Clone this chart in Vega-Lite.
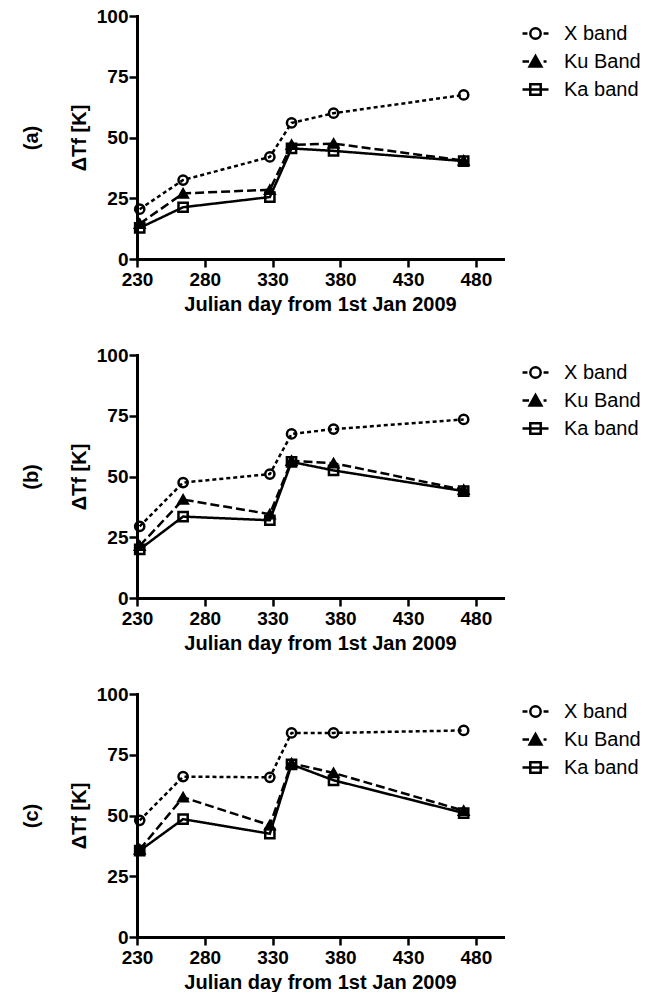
{
  "$schema": "https://vega.github.io/schema/vega-lite/v6.json",
  "padding": {"left": 21, "top": 7, "right": 0, "bottom": 0},
  "bounds": "flush",
  "spacing": 96,
  "data": {"values": [
    {"panel": "a", "band": "X band", "day": 232, "dT": 20.5},
    {"panel": "a", "band": "X band", "day": 264, "dT": 32.5},
    {"panel": "a", "band": "X band", "day": 328, "dT": 42},
    {"panel": "a", "band": "X band", "day": 344, "dT": 56},
    {"panel": "a", "band": "X band", "day": 375, "dT": 60},
    {"panel": "a", "band": "X band", "day": 471, "dT": 67.5},
    {"panel": "a", "band": "Ku Band", "day": 232, "dT": 14.5},
    {"panel": "a", "band": "Ku Band", "day": 264, "dT": 27},
    {"panel": "a", "band": "Ku Band", "day": 328, "dT": 28.5},
    {"panel": "a", "band": "Ku Band", "day": 344, "dT": 47},
    {"panel": "a", "band": "Ku Band", "day": 375, "dT": 47.5},
    {"panel": "a", "band": "Ku Band", "day": 471, "dT": 40.5},
    {"panel": "a", "band": "Ka band", "day": 232, "dT": 12.8},
    {"panel": "a", "band": "Ka band", "day": 264, "dT": 21.3},
    {"panel": "a", "band": "Ka band", "day": 328, "dT": 25.5},
    {"panel": "a", "band": "Ka band", "day": 344, "dT": 45.5},
    {"panel": "a", "band": "Ka band", "day": 375, "dT": 44.5},
    {"panel": "a", "band": "Ka band", "day": 471, "dT": 40.3},
    {"panel": "b", "band": "X band", "day": 232, "dT": 29.5},
    {"panel": "b", "band": "X band", "day": 264, "dT": 47.5},
    {"panel": "b", "band": "X band", "day": 328, "dT": 51},
    {"panel": "b", "band": "X band", "day": 344, "dT": 67.5},
    {"panel": "b", "band": "X band", "day": 375, "dT": 69.5},
    {"panel": "b", "band": "X band", "day": 471, "dT": 73.5},
    {"panel": "b", "band": "Ku Band", "day": 232, "dT": 21.5},
    {"panel": "b", "band": "Ku Band", "day": 264, "dT": 40.5},
    {"panel": "b", "band": "Ku Band", "day": 328, "dT": 34.5},
    {"panel": "b", "band": "Ku Band", "day": 344, "dT": 56.5},
    {"panel": "b", "band": "Ku Band", "day": 375, "dT": 55.5},
    {"panel": "b", "band": "Ku Band", "day": 471, "dT": 44.5},
    {"panel": "b", "band": "Ka band", "day": 232, "dT": 20},
    {"panel": "b", "band": "Ka band", "day": 264, "dT": 33.5},
    {"panel": "b", "band": "Ka band", "day": 328, "dT": 32},
    {"panel": "b", "band": "Ka band", "day": 344, "dT": 56},
    {"panel": "b", "band": "Ka band", "day": 375, "dT": 52.5},
    {"panel": "b", "band": "Ka band", "day": 471, "dT": 44},
    {"panel": "c", "band": "X band", "day": 232, "dT": 48},
    {"panel": "c", "band": "X band", "day": 264, "dT": 66},
    {"panel": "c", "band": "X band", "day": 328, "dT": 65.7},
    {"panel": "c", "band": "X band", "day": 344, "dT": 84},
    {"panel": "c", "band": "X band", "day": 375, "dT": 84},
    {"panel": "c", "band": "X band", "day": 471, "dT": 85},
    {"panel": "c", "band": "Ku Band", "day": 232, "dT": 36},
    {"panel": "c", "band": "Ku Band", "day": 264, "dT": 57.5},
    {"panel": "c", "band": "Ku Band", "day": 328, "dT": 46},
    {"panel": "c", "band": "Ku Band", "day": 344, "dT": 71.5},
    {"panel": "c", "band": "Ku Band", "day": 375, "dT": 67.5},
    {"panel": "c", "band": "Ku Band", "day": 471, "dT": 52},
    {"panel": "c", "band": "Ka band", "day": 232, "dT": 35.5},
    {"panel": "c", "band": "Ka band", "day": 264, "dT": 48.5},
    {"panel": "c", "band": "Ka band", "day": 328, "dT": 42.5},
    {"panel": "c", "band": "Ka band", "day": 344, "dT": 71},
    {"panel": "c", "band": "Ka band", "day": 375, "dT": 64.5},
    {"panel": "c", "band": "Ka band", "day": 471, "dT": 51}
  ]},
  "resolve": {
    "scale": {"shape": "independent", "fill": "independent", "strokeDash": "independent"},
    "legend": {"shape": "independent"}
  },
  "vconcat": [
    {
      "width": 366, "height": 243,
      "transform": [{"filter": "datum.panel == 'a'"}],
      "encoding": {
        "x": {"field": "day", "type": "quantitative", "scale": {"domain": [230, 500], "nice": false, "zero": false},
              "axis": {"values": [230, 280, 330, 380, 430, 480], "title": "Julian day from 1st Jan 2009"}},
        "y": {"field": "dT", "type": "quantitative", "scale": {"domain": [0, 100], "nice": false},
              "axis": {"values": [0, 25, 50, 75, 100], "title": ["(a)", "ΔTf [K]"]}}
      },
      "resolve": {"scale": {"shape": "independent"}},
      "layer": [
        {"mark": {"type": "line", "color": "black", "strokeWidth": 2.5},
         "encoding": {"strokeDash": {"field": "band", "type": "nominal", "scale": {"domain": ["X band", "Ku Band", "Ka band"], "range": [[4, 3], [9, 4], [1, 0]]}, "legend": null}}},
        {"mark": {"type": "point", "filled": true, "stroke": "black", "strokeWidth": 2.5, "size": 85, "opacity": 1},
         "encoding": {
           "shape": {"field": "band", "type": "nominal", "scale": {"domain": ["X band", "Ku Band", "Ka band"], "range": ["circle", "triangle-up", "square"]}, "legend": null},
           "fill": {"field": "band", "type": "nominal", "scale": {"domain": ["X band", "Ku Band", "Ka band"], "range": ["transparent", "black", "transparent"]}, "legend": null}}},
        {"transform": [{"filter": "false"}],
         "mark": {"type": "point", "filled": false, "color": "black", "strokeWidth": 2.5, "size": 676, "opacity": 1},
         "encoding": {
           "shape": {"field": "band", "type": "nominal", "scale": {"domain": ["X band", "Ku Band", "Ka band"], "range": [
             "M -1 0 L -0.62 0 M 0.62 0 L 1 0 M -0.4 0 A 0.4 0.4 0 1 0 0.4 0 A 0.4 0.4 0 1 0 -0.4 0 Z",
             "M -1 0 L -0.5 0 M 0.62 0 L 0.85 0 M -0.45 0.38 L 0 -0.42 L 0.45 0.38 Z M -0.27 0.273 L 0 -0.207 L 0.27 0.273 Z M -0.11 0.18 L 0 -0.02 L 0.11 0.18 Z",
             "M -1 0 L 1 0 M -0.4 -0.4 L 0.4 -0.4 L 0.4 0.4 L -0.4 0.4 Z"]},
             "legend": {"title": null, "orient": "right", "offset": 15, "padding": 3, "symbolSize": 676, "symbolStrokeWidth": 2.5, "symbolStrokeColor": "black", "labelOffset": 14, "rowPadding": 3}}}}
      ]
    },
    {
      "width": 366, "height": 243,
      "transform": [{"filter": "datum.panel == 'b'"}],
      "encoding": {
        "x": {"field": "day", "type": "quantitative", "scale": {"domain": [230, 500], "nice": false, "zero": false},
              "axis": {"values": [230, 280, 330, 380, 430, 480], "title": "Julian day from 1st Jan 2009"}},
        "y": {"field": "dT", "type": "quantitative", "scale": {"domain": [0, 100], "nice": false},
              "axis": {"values": [0, 25, 50, 75, 100], "title": ["(b)", "ΔTf [K]"]}}
      },
      "resolve": {"scale": {"shape": "independent"}},
      "layer": [
        {"mark": {"type": "line", "color": "black", "strokeWidth": 2.5},
         "encoding": {"strokeDash": {"field": "band", "type": "nominal", "scale": {"domain": ["X band", "Ku Band", "Ka band"], "range": [[4, 3], [9, 4], [1, 0]]}, "legend": null}}},
        {"mark": {"type": "point", "filled": true, "stroke": "black", "strokeWidth": 2.5, "size": 85, "opacity": 1},
         "encoding": {
           "shape": {"field": "band", "type": "nominal", "scale": {"domain": ["X band", "Ku Band", "Ka band"], "range": ["circle", "triangle-up", "square"]}, "legend": null},
           "fill": {"field": "band", "type": "nominal", "scale": {"domain": ["X band", "Ku Band", "Ka band"], "range": ["transparent", "black", "transparent"]}, "legend": null}}},
        {"transform": [{"filter": "false"}],
         "mark": {"type": "point", "filled": false, "color": "black", "strokeWidth": 2.5, "size": 676, "opacity": 1},
         "encoding": {
           "shape": {"field": "band", "type": "nominal", "scale": {"domain": ["X band", "Ku Band", "Ka band"], "range": [
             "M -1 0 L -0.62 0 M 0.62 0 L 1 0 M -0.4 0 A 0.4 0.4 0 1 0 0.4 0 A 0.4 0.4 0 1 0 -0.4 0 Z",
             "M -1 0 L -0.5 0 M 0.62 0 L 0.85 0 M -0.45 0.38 L 0 -0.42 L 0.45 0.38 Z M -0.27 0.273 L 0 -0.207 L 0.27 0.273 Z M -0.11 0.18 L 0 -0.02 L 0.11 0.18 Z",
             "M -1 0 L 1 0 M -0.4 -0.4 L 0.4 -0.4 L 0.4 0.4 L -0.4 0.4 Z"]},
             "legend": {"title": null, "orient": "right", "offset": 15, "padding": 3, "symbolSize": 676, "symbolStrokeWidth": 2.5, "symbolStrokeColor": "black", "labelOffset": 14, "rowPadding": 3}}}}
      ]
    },
    {
      "width": 366, "height": 243,
      "transform": [{"filter": "datum.panel == 'c'"}],
      "encoding": {
        "x": {"field": "day", "type": "quantitative", "scale": {"domain": [230, 500], "nice": false, "zero": false},
              "axis": {"values": [230, 280, 330, 380, 430, 480], "title": "Julian day from 1st Jan 2009"}},
        "y": {"field": "dT", "type": "quantitative", "scale": {"domain": [0, 100], "nice": false},
              "axis": {"values": [0, 25, 50, 75, 100], "title": ["(c)", "ΔTf [K]"]}}
      },
      "resolve": {"scale": {"shape": "independent"}},
      "layer": [
        {"mark": {"type": "line", "color": "black", "strokeWidth": 2.5},
         "encoding": {"strokeDash": {"field": "band", "type": "nominal", "scale": {"domain": ["X band", "Ku Band", "Ka band"], "range": [[4, 3], [9, 4], [1, 0]]}, "legend": null}}},
        {"mark": {"type": "point", "filled": true, "stroke": "black", "strokeWidth": 2.5, "size": 85, "opacity": 1},
         "encoding": {
           "shape": {"field": "band", "type": "nominal", "scale": {"domain": ["X band", "Ku Band", "Ka band"], "range": ["circle", "triangle-up", "square"]}, "legend": null},
           "fill": {"field": "band", "type": "nominal", "scale": {"domain": ["X band", "Ku Band", "Ka band"], "range": ["transparent", "black", "transparent"]}, "legend": null}}},
        {"transform": [{"filter": "false"}],
         "mark": {"type": "point", "filled": false, "color": "black", "strokeWidth": 2.5, "size": 676, "opacity": 1},
         "encoding": {
           "shape": {"field": "band", "type": "nominal", "scale": {"domain": ["X band", "Ku Band", "Ka band"], "range": [
             "M -1 0 L -0.62 0 M 0.62 0 L 1 0 M -0.4 0 A 0.4 0.4 0 1 0 0.4 0 A 0.4 0.4 0 1 0 -0.4 0 Z",
             "M -1 0 L -0.5 0 M 0.62 0 L 0.85 0 M -0.45 0.38 L 0 -0.42 L 0.45 0.38 Z M -0.27 0.273 L 0 -0.207 L 0.27 0.273 Z M -0.11 0.18 L 0 -0.02 L 0.11 0.18 Z",
             "M -1 0 L 1 0 M -0.4 -0.4 L 0.4 -0.4 L 0.4 0.4 L -0.4 0.4 Z"]},
             "legend": {"title": null, "orient": "right", "offset": 15, "padding": 3, "symbolSize": 676, "symbolStrokeWidth": 2.5, "symbolStrokeColor": "black", "labelOffset": 14, "rowPadding": 3}}}}
      ]
    }
  ],
  "config": {
    "view": {"stroke": null},
    "axis": {
      "grid": false, "labelFlush": false, "labelOverlap": false,
      "domainColor": "black", "domainWidth": 3, "domainCap": "square",
      "tickColor": "black", "tickWidth": 2.5, "tickSize": 8,
      "labelColor": "black", "labelFont": "Liberation Sans Narrow, Liberation Sans, sans-serif", "labelFontWeight": "bold", "labelFontSize": 19, "labelPadding": 2,
      "titleColor": "black", "titleFont": "Liberation Sans, sans-serif", "titleFontWeight": "bold", "titleFontSize": 20
    },
    "axisX": {"titlePadding": 5, "labelPadding": 3},
    "axisY": {"titlePadding": 7, "titleLineHeight": 48, "labelPadding": 1},
    "legend": {"labelFont": "Liberation Sans, sans-serif", "labelFontSize": 20, "labelColor": "black"}
  }
}
